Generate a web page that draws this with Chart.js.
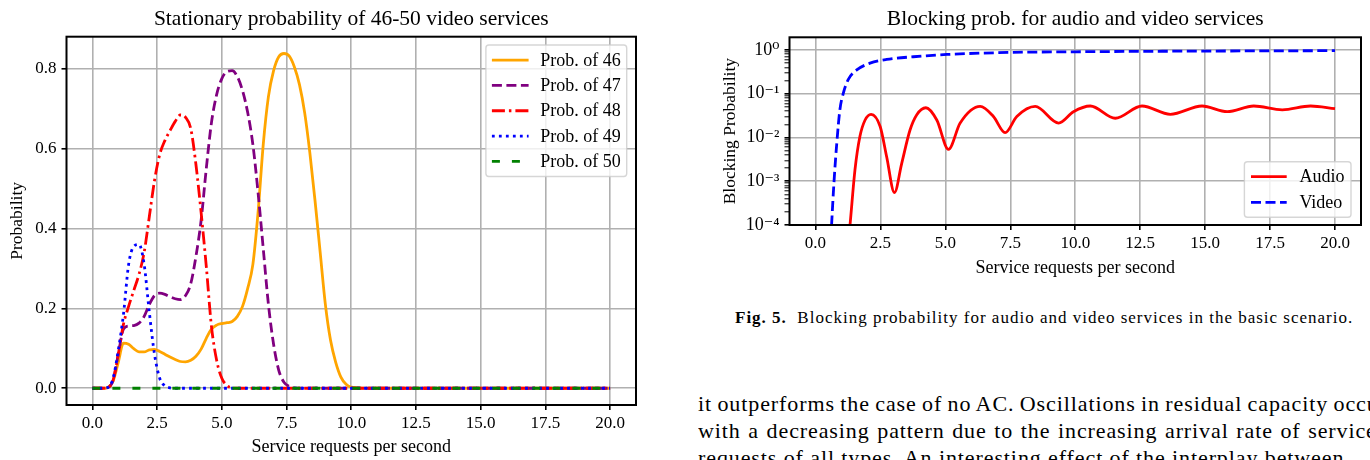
<!DOCTYPE html>
<html>
<head>
<meta charset="utf-8">
<title>Stationary and blocking probability</title>
<script src="https://cdn.jsdelivr.net/npm/chart.js@4.4.1/dist/chart.umd.min.js"></script>
<style>
    html, body { margin: 0; padding: 0; background: #fff; }
    body { width: 1370px; height: 460px; position: relative; overflow: hidden;
           font-family: "Liberation Serif", "DejaVu Serif", serif; color: #000; }
    #leftChart { position: absolute; left: 0; top: 0; }
    #rightChart { position: absolute; left: 700px; top: 0; }
    #caption { position: absolute; left: 735px; top: 308px; font-size: 17px; letter-spacing: 1px; white-space: nowrap; }
    #bodyText { position: absolute; left: 698px; top: 390px; width: 672px; height: 70px;
                font-size: 22px; letter-spacing: 0.9px; line-height: 27px; white-space: nowrap; overflow: hidden; }
    #bodyText .tight { word-spacing: -1px; }
    #bodyText .loose { word-spacing: 1.2px; }
</style>
</head>
<body>
<canvas id="leftChart" width="660" height="460"></canvas>
<canvas id="rightChart" width="670" height="290"></canvas>
<div id="caption"><b>Fig. 5.</b>&nbsp; Blocking probability for audio and video services in the basic scenario.</div>
<div id="bodyText">
    <div class="tight">it outperforms the case of no AC. Oscillations in residual capacity occur</div>
    <div class="loose">with a decreasing pattern due to the increasing arrival rate of service</div>
    <div>requests of all types. An interesting effect of the interplay between</div>
</div>

<script>
// ---- Left chart data: stationary probability of 46-50 video services ----
const xValues = [0, 0.2, 0.4, 0.6, 0.8, 1.0, 1.2, 1.4, 1.6, 1.8, 2.0, 2.2, 2.4, 2.6, 2.8, 3.0, 3.2, 3.4, 3.6, 3.8,
    4.0, 4.2, 4.4, 4.6, 4.8, 5.0, 5.2, 5.4, 5.6, 5.8, 6.0, 6.2, 6.4, 6.6, 6.8, 7.0, 7.2, 7.4, 7.6, 7.8,
    8.0, 8.2, 8.4, 8.6, 8.8, 9.0, 9.2, 9.4, 9.6, 9.8, 10.0, 11, 12, 13, 14, 15, 16, 17, 18, 19, 20];

const prob46 = [0, 0, 0, 0.002, 0.018, 0.065, 0.113, 0.11, 0.099, 0.091, 0.091, 0.096, 0.097, 0.092, 0.085, 0.078, 0.072, 0.067, 0.066, 0.07,
    0.08, 0.098, 0.125, 0.148, 0.158, 0.162, 0.164, 0.167, 0.18, 0.205, 0.25, 0.31, 0.44, 0.61, 0.73, 0.795, 0.83, 0.838, 0.832, 0.805,
    0.76, 0.69, 0.59, 0.47, 0.34, 0.21, 0.12, 0.065, 0.028, 0.01, 0.003, 0, 0, 0, 0, 0, 0, 0, 0, 0, 0];

const prob47 = [0, 0, 0, 0.002, 0.02, 0.085, 0.148, 0.156, 0.157, 0.163, 0.18, 0.21, 0.232, 0.238, 0.235, 0.229, 0.224, 0.222, 0.232, 0.262,
    0.33, 0.42, 0.55, 0.665, 0.735, 0.775, 0.793, 0.795, 0.78, 0.745, 0.69, 0.61, 0.49, 0.35, 0.21, 0.11, 0.045, 0.015, 0.005, 0.001,
    0, 0, 0, 0, 0, 0, 0, 0, 0, 0, 0, 0, 0, 0, 0, 0, 0, 0, 0, 0, 0];

const prob48 = [0, 0, 0, 0.002, 0.02, 0.085, 0.16, 0.205, 0.245, 0.285, 0.34, 0.43, 0.52, 0.585, 0.62, 0.645, 0.668, 0.684, 0.678, 0.65,
    0.56, 0.44, 0.305, 0.155, 0.07, 0.025, 0.007, 0.001, 0, 0, 0, 0, 0, 0, 0, 0, 0, 0, 0, 0,
    0, 0, 0, 0, 0, 0, 0, 0, 0, 0, 0, 0, 0, 0, 0, 0, 0, 0, 0, 0, 0];

const prob49 = [0, 0, 0, 0.002, 0.025, 0.095, 0.185, 0.31, 0.355, 0.36, 0.31, 0.19, 0.085, 0.025, 0.006, 0.001, 0, 0, 0, 0,
    0, 0, 0, 0, 0, 0, 0, 0, 0, 0, 0, 0, 0, 0, 0, 0, 0, 0, 0, 0,
    0, 0, 0, 0, 0, 0, 0, 0, 0, 0, 0, 0, 0, 0, 0, 0, 0, 0, 0, 0, 0];

const prob50 = [0, 0, 0, 0, 0, 0, 0, 0, 0, 0, 0, 0, 0, 0, 0, 0, 0, 0, 0, 0,
    0, 0, 0, 0, 0, 0, 0, 0, 0, 0, 0, 0, 0, 0, 0, 0, 0, 0, 0, 0,
    0, 0, 0, 0, 0, 0, 0, 0, 0, 0, 0, 0, 0, 0, 0, 0, 0, 0, 0, 0, 0];

const xTicks = [0, 2.5, 5, 7.5, 10, 12.5, 15, 17.5, 20];
const probTicks = [0, 0.2, 0.4, 0.6, 0.8];

// ---- Right chart data: blocking probability (log scale) ----
const audioX = [1.0, 1.33, 1.52, 1.71, 1.91, 2.14, 2.49, 2.74, 3.04, 3.32, 3.64, 3.9, 4.25, 4.67, 5.12, 5.57, 6.34, 6.85,
    7.3, 7.75, 8.46, 9.36, 9.93, 10.58, 11.54, 12.57, 13.66, 14.88, 15.85, 16.87, 17.97, 19.06, 20.0];
const audioY = [1e-6, 1e-4, 0.00182, 0.0105, 0.0251, 0.0339, 0.0178, 0.00363, 0.00055, 0.00257, 0.0148, 0.0331, 0.0479, 0.0251,
    0.00537, 0.0214, 0.0513, 0.0302, 0.0129, 0.0302, 0.0513, 0.0214, 0.0389, 0.0525, 0.0275, 0.0525, 0.0339, 0.0525,
    0.0389, 0.0525, 0.0427, 0.0525, 0.0457];

const videoX = [0.45, 0.62, 0.71, 0.82, 0.94, 1.07, 1.26, 1.59, 2.1, 2.74, 3.77, 5.06, 7.5, 10, 12.5, 15, 17.5, 20];
const videoY = [1e-6, 1e-4, 0.0009, 0.0074, 0.043, 0.102, 0.21, 0.35, 0.5, 0.61, 0.7, 0.79, 0.88, 0.91, 0.93, 0.945, 0.955, 0.965];

const logMajorTicks = [1e-4, 1e-3, 1e-2, 1e-1, 1];
const logTickLabels = ['10\u207B\u2074', '10\u207B\u00B3', '10\u207B\u00B2', '10\u207B\u00B9', '10\u2070'];

// ---- Shared styling ----
const FONT = '"Liberation Serif", "DejaVu Serif", serif';
const GRID = '#b0b0b0';
Chart.defaults.font.family = FONT;
Chart.defaults.color = '#000';

// Pair x and y arrays into Chart.js points
function toPoints(xs, ys) {
    return xs.map((x, i) => ({ x: x, y: ys[i] }));
}

// Black box around the plot area, drawn above the lines like matplotlib spines
const framePlugin = {
    id: 'frame',
    afterDatasetsDraw(chart) {
        const { ctx, chartArea: a } = chart;
        ctx.save();
        ctx.strokeStyle = '#000';
        ctx.lineWidth = 2;
        ctx.strokeRect(a.left, a.top, a.right - a.left, a.bottom - a.top);
        ctx.restore();
    }
};

// Matplotlib-like legend drawn inside the plot area
const mplLegendPlugin = {
    id: 'mplLegend',
    afterDraw(chart, args, opts) {
        const { ctx, chartArea: a } = chart;
        const items = chart.data.datasets;
        ctx.save();
        ctx.font = opts.font;
        let textW = 0;
        items.forEach(ds => { textW = Math.max(textW, ctx.measureText(ds.label).width); });
        const boxW = opts.padX + opts.lineLength + opts.gap + textW + opts.padX;
        const boxH = opts.padY * 2 + items.length * opts.rowHeight;
        const x0 = a.right - opts.offsetX - boxW;
        const y0 = opts.anchor === 'top' ? a.top + opts.offsetY : a.bottom - opts.offsetY - boxH;

        ctx.beginPath();
        ctx.roundRect(x0, y0, boxW, boxH, 3);
        ctx.fillStyle = 'rgba(255,255,255,0.8)';
        ctx.fill();
        ctx.strokeStyle = 'rgba(204,204,204,0.8)';
        ctx.lineWidth = 1.4;
        ctx.stroke();

        items.forEach((ds, i) => {
            const cy = y0 + opts.padY + opts.rowHeight * (i + 0.5);
            ctx.beginPath();
            ctx.setLineDash(ds.borderDash || []);
            ctx.strokeStyle = ds.borderColor;
            ctx.lineWidth = ds.borderWidth;
            ctx.moveTo(x0 + opts.padX, cy);
            ctx.lineTo(x0 + opts.padX + opts.lineLength, cy);
            ctx.stroke();
            ctx.setLineDash([]);
            ctx.fillStyle = '#000';
            ctx.textBaseline = 'middle';
            ctx.fillText(ds.label, x0 + opts.padX + opts.lineLength + opts.gap, cy + 1);
        });
        ctx.restore();
    }
};

// Replace generated ticks with a fixed list
function fixedTicks(values) {
    return function(scale) {
        scale.ticks = values.map(v => ({ value: v }));
    };
}

function xAxis(height, titlePad) {
    return {
        type: 'linear',
        min: -1,
        max: 21,
        afterBuildTicks: fixedTicks(xTicks),
        afterFit: function(scale) { scale.height = height; },
        grid: { color: GRID, lineWidth: 1.6, tickColor: '#000', tickWidth: 1.6, tickLength: 5 },
        border: { display: false },
        ticks: { font: { size: 17 }, padding: 3, maxRotation: 0, autoSkip: false,
                 callback: v => v.toFixed(1) },
        title: { display: true, text: 'Service requests per second', font: { size: 18 },
                 padding: { top: 0, bottom: titlePad } }
    };
}

function lineDataset(label, xs, ys, color, dash, order) {
    return {
        label: label,
        data: toPoints(xs, ys),
        borderColor: color,
        borderWidth: 2.8,
        borderDash: dash,
        pointRadius: 0,
        fill: false,
        cubicInterpolationMode: 'monotone',
        order: order
    };
}

// ---- Left chart ----
new Chart(document.getElementById('leftChart'), {
    type: 'line',
    data: {
        datasets: [
            lineDataset('Prob. of 46', xValues, prob46, '#ffa500', [], 4),
            lineDataset('Prob. of 47', xValues, prob47, '#800080', [10, 4.5], 3),
            lineDataset('Prob. of 48', xValues, prob48, '#ff0000', [13, 4, 2.5, 4], 2),
            lineDataset('Prob. of 49', xValues, prob49, '#0000ff', [2.8, 4.2], 1),
            lineDataset('Prob. of 50', xValues, prob50, '#008000', [8, 12], 0)
        ]
    },
    options: {
        responsive: false,
        animation: false,
        layout: { padding: { left: 0, right: 24, top: 0, bottom: 0 } },
        plugins: {
            legend: { display: false },
            tooltip: { enabled: false },
            title: {
                display: true,
                text: 'Stationary probability of 46-50 video services',
                fullSize: false,
                color: '#000',
                font: { size: 21.5, weight: 'normal' },
                padding: { top: 6.5, bottom: 4.4 }
            },
            mplLegend: { font: '18px ' + FONT, padX: 6, padY: 2.5, lineLength: 36.7, gap: 11.6,
                         rowHeight: 25.3, offsetX: 9.3, offsetY: 8.3, anchor: 'top' }
        },
        scales: {
            x: xAxis(55, 2),
            y: {
                type: 'linear',
                min: -0.0419,
                max: 0.88,
                afterBuildTicks: fixedTicks(probTicks),
                afterFit: function(scale) { scale.width = 66.5; },
                grid: { color: GRID, lineWidth: 1.6, tickColor: '#000', tickWidth: 1.6, tickLength: 5 },
                border: { display: false },
                ticks: { font: { size: 17 }, padding: 5, autoSkip: false, callback: v => v.toFixed(1) },
                title: { display: true, text: 'Probability', font: { size: 17.5 }, padding: { top: 6.5, bottom: 0 } }
            }
        }
    },
    plugins: [framePlugin, mplLegendPlugin]
});

// ---- Right chart ----
new Chart(document.getElementById('rightChart'), {
    type: 'line',
    data: {
        datasets: [
            lineDataset('Audio', audioX, audioY, '#ff0000', [], 1),
            lineDataset('Video', videoX, videoY, '#0000ff', [10, 4.5], 0)
        ]
    },
    options: {
        responsive: false,
        animation: false,
        layout: { padding: { left: 0, right: 9, top: 0, bottom: 0 } },
        plugins: {
            legend: { display: false },
            tooltip: { enabled: false },
            title: {
                display: true,
                text: 'Blocking prob. for audio and video services',
                fullSize: false,
                color: '#000',
                font: { size: 21.5, weight: 'normal' },
                padding: { top: 6.5, bottom: 5 }
            },
            mplLegend: { font: '18px ' + FONT, padX: 6.6, padY: 2.1, lineLength: 35.7, gap: 12.7,
                         rowHeight: 25.7, offsetX: 10, offsetY: 7.7, anchor: 'bottom' }
        },
        scales: {
            x: xAxis(65, 11),
            y: {
                type: 'logarithmic',
                min: 1e-4,
                max: 1.95,
                afterBuildTicks: function(scale) {
                    const ticks = [];
                    logMajorTicks.forEach(m => {
                        ticks.push({ value: m, major: true });
                        for (let k = 2; k <= 9; k++) {
                            if (m * k <= scale.max && m < 1) ticks.push({ value: m * k, major: false });
                        }
                    });
                    scale.ticks = ticks;
                },
                afterFit: function(scale) { scale.width = 89.5; },
                grid: {
                    color: ctx => (ctx.tick && ctx.tick.major) ? GRID : 'rgba(0,0,0,0)',
                    lineWidth: 1.6,
                    tickColor: '#000',
                    tickWidth: ctx => (ctx.tick && ctx.tick.major) ? 1.6 : 1,
                    tickLength: 5
                },
                border: { display: false },
                ticks: {
                    font: { size: 18 },
                    padding: 5,
                    autoSkip: false,
                    callback: function(v) {
                        const i = logMajorTicks.findIndex(m => Math.abs(m - v) < m * 1e-6);
                        return i >= 0 ? logTickLabels[i] : '';
                    }
                },
                title: { display: true, text: 'Blocking Probability', font: { size: 17.5 }, padding: { top: 19.5, bottom: 0 } }
            }
        }
    },
    plugins: [framePlugin, mplLegendPlugin]
});
</script>
</body>
</html>
